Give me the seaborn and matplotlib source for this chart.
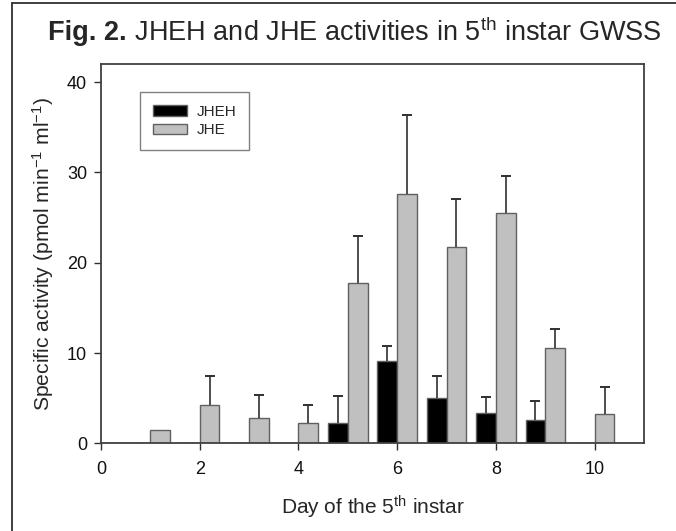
import numpy as np
import pandas as pd
import matplotlib
matplotlib.use('Agg')
import matplotlib.pyplot as plt
import seaborn as sns
from matplotlib.lines import Line2D
from matplotlib.patches import Patch

# values
days = [1, 2, 3, 4, 5, 6, 7, 8, 9, 10]
jheh = [0, 0, 0, 0, 2.2, 9.1, 5.0, 3.4, 2.6, 0]
jheh_err = [0, 0, 0, 0, 3.0, 1.7, 2.4, 1.7, 2.1, 0]
jhe = [1.5, 4.2, 2.8, 2.3, 17.7, 27.6, 21.7, 25.5, 10.5, 3.2]
jhe_err = [0, 3.3, 2.6, 1.9, 5.3, 8.8, 5.4, 4.1, 2.2, 3.0]
groups = ['JHEH', 'JHE']

sns.set_theme(style="white")
plt.rcParams['font.family'] = ['Liberation Sans', 'DejaVu Sans']
plt.rcParams['mathtext.fontset'] = 'custom'
plt.rcParams['mathtext.rm'] = 'Liberation Sans'
plt.rcParams['mathtext.bf'] = 'Liberation Sans:bold'
plt.rcParams['mathtext.it'] = 'Liberation Sans:italic'

df = pd.DataFrame({
    'Day': days * 2,
    'Activity': jheh + jhe,
    'Err': jheh_err + jhe_err,
    'Enzyme': ['JHEH'] * len(days) + ['JHE'] * len(days),
})

fig = plt.figure(figsize=(6.76, 5.31), dpi=100)
ax = fig.add_axes([0.1494, 0.1651, 0.8033, 0.7144])

colors = {'JHEH': 'black', 'JHE': '#c0c0c0'}
sns.barplot(data=df, x='Day', y='Activity', hue='Enzyme', hue_order=groups,
            palette=colors, native_scale=True, width=0.8, errorbar=None,
            edgecolor='#606060', linewidth=1.0, legend=False, ax=ax)

# upper-only error bars, positioned from the drawn bars
for cont, name in zip(ax.containers, groups):
    errs = df[df['Enzyme'] == name]['Err'].values
    for bar, e in zip(cont, errs):
        if e <= 0:
            continue
        xc = bar.get_x() + bar.get_width() / 2
        top = bar.get_height()
        _, caps, _ = ax.errorbar(xc, top, yerr=[[0], [e]], fmt='none', ecolor='#303030',
                                 elinewidth=1.2, capsize=3.8, capthick=1.4)
        caps[0].set_visible(False)  # no cap at the bar top

ax.set_xlim(0, 11)
ax.set_ylim(0, 42)
ax.set_xticks([0, 2, 4, 6, 8, 10])
ax.set_yticks([0, 10, 20, 30, 40])
ax.tick_params(axis='both', direction='out', length=5, width=1, color='#303030',
               labelsize=13, labelcolor='#111111', bottom=True, left=True, pad=5)
ax.tick_params(axis='x', pad=8)
for s in ax.spines.values():
    s.set_color('#404040')
    s.set_linewidth(1.3)

ax.set_xlabel('Day of the 5$^{\\mathrm{th}}$ instar', fontsize=15, labelpad=11)
ax.set_ylabel('Specific activity (pmol min$^{\\mathrm{-1}}$ ml$^{\\mathrm{-1}}$)',
              fontsize=15.2, labelpad=8)

handles = [Patch(facecolor='black', edgecolor='#606060', label='JHEH'),
           Patch(facecolor='#c0c0c0', edgecolor='#606060', label='JHE')]
leg = ax.legend(handles=handles, loc='upper left', bbox_to_anchor=(0.072, 0.926),
                fontsize=11, handlelength=2.25, handleheight=0.7,
                borderpad=0.85, labelspacing=0.28, handletextpad=0.6,
                fancybox=False, framealpha=1, edgecolor='#808080', borderaxespad=0)
leg.get_frame().set_linewidth(1.0)

# title: bold figure number followed by normal text
fig.canvas.draw()
renderer = fig.canvas.get_renderer()
t1 = fig.text(0, 0.938, 'Fig. 2.', fontsize=19.5, fontweight='bold', va='center')
t2 = fig.text(0, 0.938, ' JHEH and JHE activities in 5$^{\\mathrm{th}}$ instar GWSS',
              fontsize=19.5, va='center')
w1 = t1.get_window_extent(renderer).width / fig.bbox.width
w2 = t2.get_window_extent(renderer).width / fig.bbox.width
x0 = 0.525 - (w1 + w2) / 2
t1.set_x(x0)
t2.set_x(x0 + w1)

# page frame on the left and top edges
fig.add_artist(Line2D([0.0178, 0.0178], [0, 0.9944], color='#303030', lw=1.3))
fig.add_artist(Line2D([0.0178, 1], [0.9944, 0.9944], color='#303030', lw=1.3))

fig.savefig('out.png', dpi=100)
